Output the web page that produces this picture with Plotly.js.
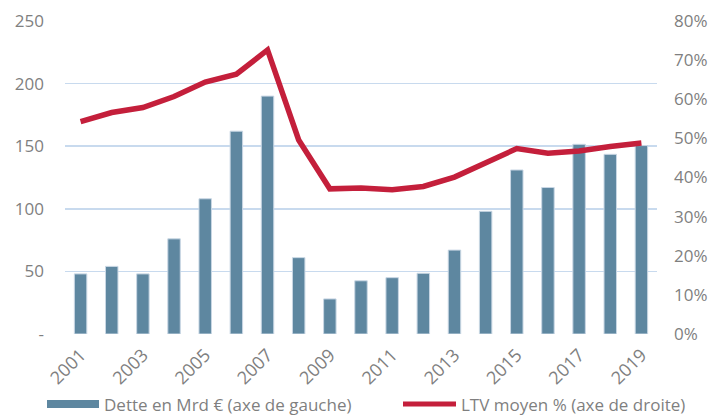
<!DOCTYPE html>
<html><head><meta charset="utf-8">
<script src="https://cdn.plot.ly/plotly-3.0.1.min.js"></script>
<style>html,body{margin:0;padding:0;background:#fff;}#chart{width:713px;height:415px;}</style>
</head><body><div id="chart"></div>
<script>
const years = ['2001','2002','2003','2004','2005','2006','2007','2008','2009','2010','2011','2012','2013','2014','2015','2016','2017','2018','2019'];
const dette = [48, 54, 48, 76, 108, 162, 190, 61, 28, 42.5, 45, 48.5, 67, 98, 131, 117, 151.5, 143.5, 150.5];
const ltv = [54.3, 56.6, 57.9, 60.7, 64.4, 66.4, 72.6, 49.6, 37.1, 37.3, 36.9, 37.7, 40.1, 43.8, 47.4, 46.2, 46.8, 47.9, 48.8];
const leftTicks = [0, 50, 100, 150, 200, 250];
const leftTickText = ['-', '50', '100', '150', '200', '250'];
const xTicks = ['2001','2003','2005','2007','2009','2011','2013','2015','2017','2019'];
const legendBar = 'Dette en Mrd € (axe de gauche)';
const legendLine = 'LTV moyen % (axe de droite)';

const font = 'Open Sans, Lato, sans-serif';
const grey = '#7f7f7f';
const barColor = '#5e87a0';
const lineColor = '#c41f3b';

const data = [
  {type:'bar', x: years, y: dette, name: legendBar, marker:{color: barColor, line:{color:'#c9d7e4', width:1}}, width:0.4, yaxis:'y', showlegend:false},
  {type:'scatter', mode:'lines', x: years, y: ltv, name: legendLine, line:{color: lineColor, width:5.5}, yaxis:'y2', showlegend:false}
];
const ly = (415-81-404)/313;
const layout = {
  width:713, height:415,
  margin:{l:65, r:56, t:21, b:81},
  paper_bgcolor:'#fff', plot_bgcolor:'#fff',
  font:{family: font, color: grey, size:17},
  xaxis:{type:'category', tickmode:'array', tickvals: xTicks, ticktext: xTicks, tickangle:-45, showgrid:false, zeroline:false, showline:false, ticks:'', ticklabelstandoff:6, tickfont:{size:18, color:grey}, fixedrange:true},
  yaxis:{range:[0,250], tickmode:'array', tickvals:leftTicks, ticktext:leftTickText, showgrid:true, gridcolor:'#c8daee', gridwidth:1.5, zeroline:false, showline:false, ticks:'', ticklabelstandoff:20, tickfont:{size:17, color:grey}},
  yaxis2:{range:[0,80], overlaying:'y', side:'right', dtick:10, ticksuffix:'%', showgrid:false, zeroline:false, showline:false, ticks:'', ticklabelstandoff:16, tickfont:{size:17, color:grey}},
  bargap:0.6,
  shapes:[
    {type:'rect', xref:'paper', yref:'paper', x0:(47-65)/592, x1:(99-65)/592, y0:ly-4/313, y1:ly+4/313, fillcolor:barColor, line:{width:0}},
    {type:'line', xref:'paper', yref:'paper', x0:(403-65)/592, x1:(456-65)/592, y0:ly, y1:ly, line:{color:lineColor, width:5}}
  ],
  annotations:[
    {xref:'paper', yref:'paper', x:(102-65)/592, y:ly, xanchor:'left', yanchor:'middle', text:legendBar, showarrow:false, font:{size:17, color:grey}},
    {xref:'paper', yref:'paper', x:(459-65)/592, y:ly, xanchor:'left', yanchor:'middle', text:legendLine, showarrow:false, font:{size:17, color:grey}}
  ]
};
Plotly.newPlot('chart', data, layout, {displayModeBar:false, staticPlot:true});
</script></body></html>
